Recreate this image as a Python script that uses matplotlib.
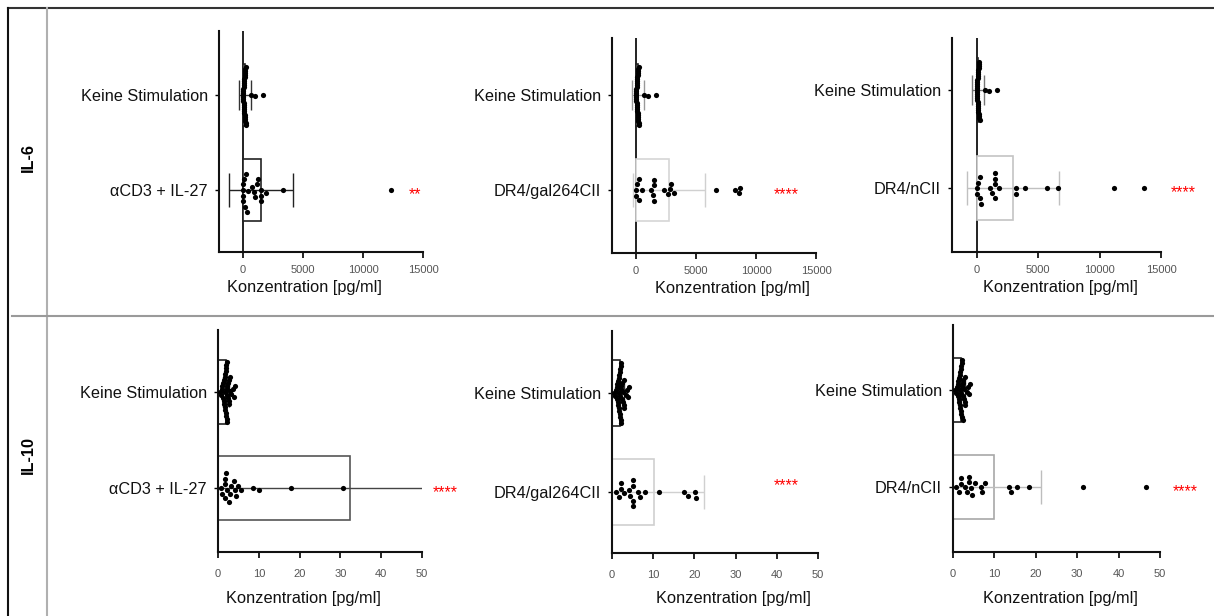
import numpy as np
import matplotlib
matplotlib.use("Agg")
import matplotlib.pyplot as plt
from matplotlib.lines import Line2D

plt.rcParams["font.family"] = ["Liberation Sans", "DejaVu Sans"]

W, H = 1214, 616

# ---- data ----
ctrl_label = "Keine Stimulation"
stim_labels = ["\u03b1CD3 + IL-27", "DR4/gal264CII", "DR4/nCII"]

il6_ctrl = [0, 0, 10, 20, 20, 30, 40, 50, 50, 60, 70, 80, 80, 90, 100, 100, 110,
            120, 130, 130, 140, 150, 160, 170, 180, 190, 200, 210, 230, 250,
            650, 980, 1670]
il6_stim = [
    [0, 0, 0, 30, 60, 170, 220, 300, 450, 720, 950, 1000, 1140, 1220, 1480,
     1480, 1500, 1890, 3360, 12300],
    [0, 0, 80, 270, 270, 500, 1240, 1380, 1460, 1520, 1520, 2350, 2630, 2820,
     2900, 3180, 6690, 8230, 8600, 8650],
    [0, 0, 110, 245, 245, 380, 1120, 1280, 1470, 1470, 1470, 1470, 1820, 3180,
     3180, 3910, 5760, 6630, 11200, 13600],
]
il6_ctrl_mean, il6_ctrl_sd = 150, 490
il6_stim_mean = [1500, 2740, 2940]
il6_stim_sd = [2650, 2980, 3750]

il10_ctrl = [0.4, 0.8, 1.0, 1.1, 1.2, 1.3, 1.4, 1.5, 1.5, 1.6, 1.7, 1.7, 1.8, 1.8,
             1.9, 1.9, 2.0, 2.0, 2.0, 2.1, 2.1, 2.2, 2.2, 2.3, 2.3, 2.4, 2.5, 2.6,
             2.7, 2.8, 2.9, 3.0, 3.3, 3.6, 3.9, 4.1]
il10_stim = [
    [0.8, 1.0, 1.8, 1.8, 1.8, 2.0, 2.2, 2.8, 3.0, 3.3, 3.8, 4.2, 4.4, 4.9, 5.7,
     8.7, 10.0, 18.0, 30.6],
    [1.0, 1.7, 2.1, 2.1, 3.0, 4.2, 4.4, 5.0, 5.2, 5.0, 5.0, 6.4, 6.8, 8.0, 11.4,
     17.5, 18.5, 20.1, 20.3],
    [0.8, 1.4, 1.9, 1.9, 3.0, 3.5, 3.8, 3.8, 4.4, 4.6, 5.2, 6.8, 7.1, 7.7, 13.5,
     14.1, 15.5, 18.3, 31.4, 46.5],
]
il10_ctrl_mean, il10_ctrl_sd = 2.0, 0.8
il10_stim_mean = [32.4, 10.2, 10.0]
il10_stim_sd = [35.0, 12.1, 11.3]

stars_il6 = ["**", "****", "****"]
stars_il10 = ["****", "****", "****"]

il6_ticks = [0, 5000, 10000, 15000]
il10_ticks = [0, 10, 20, 30, 40, 50]
xlabel = "Konzentration [pg/ml]"

# ---- layout (image pixels, y from top) ----
rects = [
    [(219, 423, 31, 252), (612, 816, 38, 253), (952, 1161, 38, 252)],
    [(218, 422, 330, 552), (612, 818, 331, 553), (953, 1160, 325, 552)],
]
ylims = [
    [(1.653, -0.674), (1.663, -0.60), (1.653, -0.531)],
    [(1.667, -0.646), (1.616, -0.626), (1.67, -0.67)],
]
xlab_x = [0.42, 0.59, 0.52]
star_pos = [
    [(14330, 1), (12500, 1), (16790, 1)],
    [(55.6, 1), (42.2, 0.89), (56.0, 1)],
]
bar_edge = [["#222222", "#d6d6d6", "#c4c4c4"], ["#555555", "#cfcfcf", "#a8a8a8"]]
err_col = [["#222222", "#d0d0d0", "#c0c0c0"], ["#444444", "#d0d0d0", "#bdbdbd"]]
ctrl_err_col = [["#333333", "#999999", "#777777"], ["#333333", "#333333", "#333333"]]


def swarm_y(ax, values, y0, d_px=5.0, half_px=30):
    # simple beeswarm: spread overlapping points along the category axis
    pts = ax.transData.transform(np.column_stack([values, np.full(len(values), y0)]))
    xs = pts[:, 0]
    order = np.argsort(xs, kind="stable")
    px_l, py_l = [], []
    offs = np.zeros(len(xs))
    for i in order:
        x = xs[i]
        cands = [0.0]
        for px, py in zip(px_l, py_l):
            dx = abs(x - px)
            if dx < d_px:
                dy = np.sqrt(d_px ** 2 - dx ** 2)
                cands += [py + dy, py - dy]
        cands.sort(key=abs)
        for c in cands:
            if all((x - px) ** 2 + (c - py) ** 2 >= d_px ** 2 - 1e-6
                   for px, py in zip(px_l, py_l)):
                break
        offs[i] = c
        px_l.append(x)
        py_l.append(c)
    m = np.abs(offs).max()
    if m > half_px:
        offs *= half_px / m
    bb = ax.get_window_extent()
    lo, hi = ax.get_ylim()
    per_px = abs(hi - lo) / bb.height
    return y0 + offs * per_px


fig = plt.figure(figsize=(W / 100, H / 100), dpi=100)


def fline(x0, y0, x1, y1, color):
    fig.add_artist(Line2D([x0 / W, x1 / W], [1 - y0 / H, 1 - y1 / H],
                          transform=fig.transFigure, color=color, lw=1.5))


# table frame
fline(8, 8, W, 8, "#333333")
fline(8, 8, 8, H, "#111111")
fline(47, 8, 47, H, "#b0b0b0")
fline(12, 316, W, 316, "#9a9a9a")

fig.text(28 / W, 1 - 157 / H, "IL-6", rotation=90, fontsize=11.7,
         fontweight="bold", ha="center", va="center")
fig.text(28 / W, 1 - 455 / H, "IL-10", rotation=90, fontsize=11.7,
         fontweight="bold", ha="center", va="center")

rows = [
    (il6_ctrl, il6_stim, il6_ctrl_mean, il6_ctrl_sd, il6_stim_mean, il6_stim_sd,
     stars_il6, il6_ticks, (-2000, 15000)),
    (il10_ctrl, il10_stim, il10_ctrl_mean, il10_ctrl_sd, il10_stim_mean,
     il10_stim_sd, stars_il10, il10_ticks, (0, 50)),
]

for r, (ctrl, stims, cm, csd, sm, ssd, stars, ticks, xl) in enumerate(rows):
    for c in range(3):
        x0, x1, y0, y1 = rects[r][c]
        ax = fig.add_axes([x0 / W, 1 - y1 / H, (x1 - x0) / W, (y1 - y0) / H])
        ax.set_xlim(*xl)
        ax.set_ylim(*ylims[r][c])
        for s in ["top", "right"]:
            ax.spines[s].set_visible(False)
        for s in ["left", "bottom"]:
            ax.spines[s].set_linewidth(1.5)
            ax.spines[s].set_color("#111111")

        if r == 0:
            ax.axvline(0, color="#111111", lw=1.3, zorder=1)

        # bars
        ax.barh([0], [cm], height=0.66, color="white", edgecolor="#222222",
                lw=1.2, zorder=1)
        ax.barh([1], [sm[c]], height=0.66, color="white",
                edgecolor=bar_edge[r][c], lw=1.2, zorder=1)
        # error bars (SD)
        ax.errorbar([cm], [0], xerr=[csd], fmt="none", ecolor=ctrl_err_col[r][c],
                    elinewidth=1.0, capsize=11, capthick=1.0, zorder=2)
        ax.errorbar([sm[c]], [1], xerr=[ssd[c]], fmt="none", ecolor=err_col[r][c],
                    elinewidth=1.0, capsize=12, capthick=1.0, zorder=2)

        # dots
        yc = swarm_y(ax, ctrl, 0)
        ax.scatter(ctrl, yc, s=14, color="black", lw=0, zorder=3)
        ys = swarm_y(ax, stims[c], 1, d_px=5.6)
        ax.scatter(stims[c], ys, s=14, color="black", lw=0, zorder=3, clip_on=False)

        # significance
        sx, sy = star_pos[r][c]
        ax.annotate(stars[c], xy=(sx, sy), xytext=(0, -6.5),
                    textcoords="offset points", ha="center", va="baseline",
                    color="red", fontsize=11.5, annotation_clip=False)

        ax.set_yticks([0, 1])
        ax.set_yticklabels([ctrl_label, stim_labels[c]], fontsize=11.7,
                           color="#111111")
        ax.tick_params(axis="y", length=3, width=1.0, pad=5)
        ax.set_xticks(ticks)
        ax.set_xticklabels([str(t) for t in ticks], fontsize=8, color="#555555")
        ax.tick_params(axis="x", length=4, width=1.2,
                       pad=5 if r == 0 else 8)

        ax.set_xlabel(xlabel, fontsize=11.8, color="#111111")
        ax.xaxis.label.set_va("center")
        below = 35 if r == 0 else 46
        ax.xaxis.set_label_coords(xlab_x[c], -below / (y1 - y0))

fig.savefig("out.png", dpi=100)
